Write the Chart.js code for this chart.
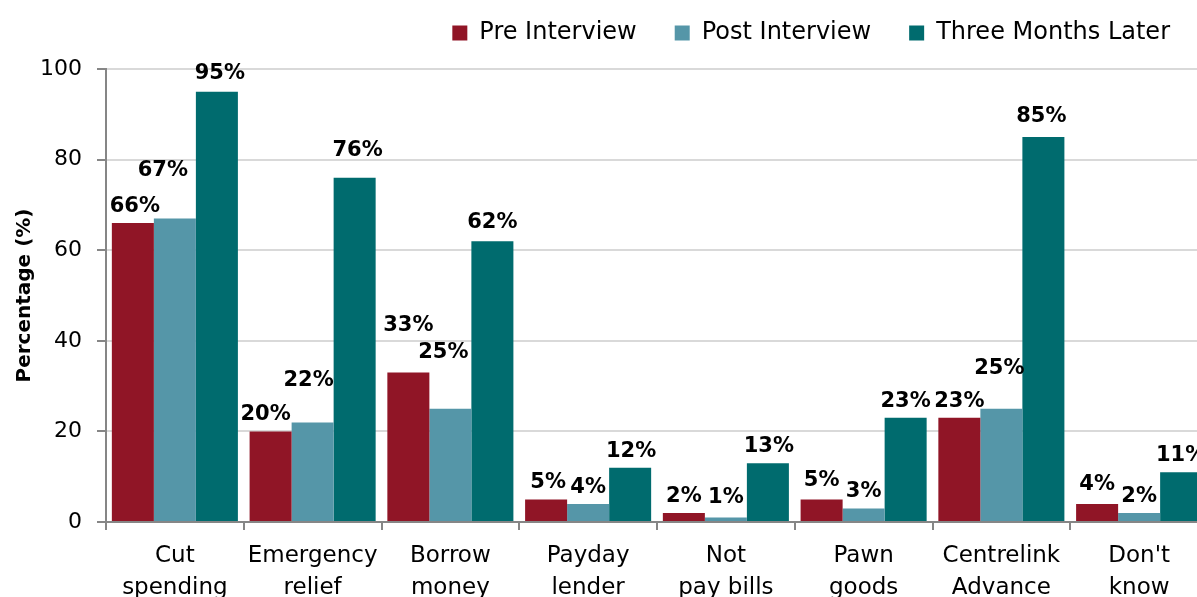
<!DOCTYPE html>
<html>
<head>
<meta charset="utf-8">
<script src="https://cdn.jsdelivr.net/npm/chart.js@4.4.1/dist/chart.umd.min.js"></script>
<style>
  html, body { margin: 0; padding: 0; background: #fff; overflow: hidden; }
  canvas { display: block; }
</style>
</head>
<body>
<canvas id="actions" width="1210" height="614"></canvas>
<script>
const categories = [
  ['Cut', 'spending'],
  ['Emergency', 'relief'],
  ['Borrow', 'money'],
  ['Payday', 'lender'],
  ['Not', 'pay bills'],
  ['Pawn', 'goods'],
  ['Centrelink', 'Advance'],
  ["Don't", 'know'],
];
const preInterview = [66, 20, 33, 5, 2, 5, 23, 4];
const postInterview = [67, 22, 25, 4, 1, 3, 25, 2];
const threeMonths = [95, 76, 62, 12, 13, 23, 85, 11];
const yTicks = [0, 20, 40, 60, 80, 100];

// extra lift / sideways nudge for value labels that sit clear of their bar
const labelLift = [
  [0, 0, 31, 0, 0, 2, 0, 3],
  [32, 25, 40, 0, 4, 0, 24, 0],
  [2, 11, 2, 0, 0, 0, 4, 0],
];
const labelShift = [
  [2, -5, 0, 2, 0, 0, 0, 0],
  [-12, -4, -7, 0, 0, 0, -2, 0],
  [3, 3, 0, 1, 1, 0, -2, 0],
];

const axisGrey = '#868686';
const font = 'DejaVu Sans';

const valueLabels = {
  id: 'valueLabels',
  afterDatasetsDraw(chart) {
    const ctx = chart.ctx;
    ctx.save();
    ctx.font = 'bold 21px "' + font + '"';
    ctx.fillStyle = '#000';
    ctx.textAlign = 'center';
    ctx.textBaseline = 'alphabetic';
    chart.data.datasets.forEach((ds, i) => {
      chart.getDatasetMeta(i).data.forEach((bar, j) => {
        const x = bar.x + labelShift[i][j];
        const y = bar.y - 11 - labelLift[i][j];
        ctx.fillText(ds.data[j] + '%', x, y);
      });
    });
    ctx.restore();
  },
};

new Chart(document.getElementById('actions'), {
  type: 'bar',
  data: {
    labels: categories,
    datasets: [
      { label: 'Pre Interview', data: preInterview, backgroundColor: '#901526' },
      { label: 'Post Interview', data: postInterview, backgroundColor: '#5596a8' },
      { label: 'Three Months Later', data: threeMonths, backgroundColor: '#006b6e' },
    ],
  },
  options: {
    responsive: false,
    devicePixelRatio: 1,
    animation: false,
    layout: { padding: { top: -17, right: 2, bottom: 0, left: 0 } },
    datasets: {
      bar: { categoryPercentage: 0.915, barPercentage: 1.0, borderWidth: 0 },
    },
    plugins: {
      legend: {
        position: 'top',
        align: 'end',
        labels: {
          boxWidth: 15,
          boxHeight: 15,
          padding: 38,
          color: '#000',
          font: { family: font, size: 24 },
        },
      },
      // empty spacer between the legend and the plot
      title: {
        display: true,
        text: '',
        weight: 500,
        font: { size: 1, lineHeight: 1 },
        padding: { top: 13, bottom: 0 },
      },
      tooltip: { enabled: false },
    },
    scales: {
      x: {
        grid: {
          offset: true,
          drawOnChartArea: false,
          color: axisGrey,
          tickColor: axisGrey,
          tickLength: 8,
          lineWidth: 2,
        },
        border: { color: axisGrey, width: 2 },
        ticks: {
          color: '#000',
          padding: 10,
          maxRotation: 0,
          autoSkip: false,
          font: { family: font, size: 23, lineHeight: 1.39 },
        },
      },
      y: {
        min: 0,
        max: 100,
        afterBuildTicks(axis) {
          axis.ticks = yTicks.map((v) => ({ value: v }));
        },
        afterFit(axis) {
          axis.width = 106;
        },
        grid: {
          color: '#d9d9d9',
          tickColor: axisGrey,
          tickLength: 9,
          lineWidth: 2,
        },
        border: { color: axisGrey, width: 2 },
        ticks: {
          color: '#000',
          padding: 15,
          font: { family: font, size: 22 },
        },
        title: {
          display: true,
          text: 'Percentage (%)',
          color: '#000',
          padding: { top: 13, bottom: 2 },
          font: { family: font, size: 20, weight: 'bold' },
        },
      },
    },
  },
  plugins: [valueLabels],
});
</script>
</body>
</html>
